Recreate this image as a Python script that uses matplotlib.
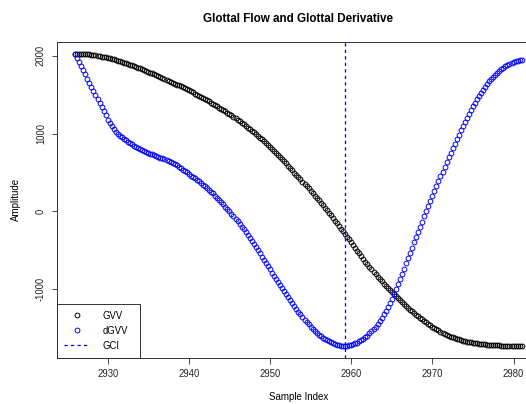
import matplotlib
matplotlib.use("Agg")
import matplotlib.pyplot as plt
import numpy as np

plt.rcParams["font.family"] = ["Liberation Sans", "DejaVu Sans"]
plt.rcParams["axes.unicode_minus"] = False

# sample index runs 2926 .. 2981 in quarter-sample steps (upsampled signal)
first_sample = 2926
last_sample = 2981
gci_sample = 2959.25

# glottal flow (4 values per sample)
gvv = [
    2026, 2025, 2024, 2023, 2022, 2021, 2019, 2016, 2013, 2009, 2005, 2000,
    1995, 1990, 1984, 1978, 1972, 1966, 1959, 1952, 1945, 1937, 1929, 1921,
    1912, 1903, 1894, 1885, 1876, 1866, 1856, 1846, 1836, 1826, 1816, 1806,
    1795, 1784, 1773, 1762, 1750, 1738, 1727, 1715, 1703, 1691, 1679, 1667,
    1655, 1643, 1630, 1618, 1605, 1592, 1580, 1568, 1555, 1541, 1528, 1514,
    1500, 1486, 1471, 1457, 1442, 1427, 1412, 1397, 1382, 1366, 1350, 1334,
    1318, 1301, 1284, 1267, 1250, 1232, 1213, 1195, 1176, 1157, 1137, 1118,
    1098, 1077, 1057, 1036, 1015, 993, 970, 948, 925, 901, 878, 854,
    830, 805, 780, 753, 725, 698, 671, 643, 616, 587, 558, 528,
    498, 469, 440, 411, 382, 353, 324, 294, 265, 234, 204, 173,
    142, 110, 79, 47, 15, -18, -52, -85, -118, -152, -187, -221,
    -255, -290, -325, -360, -395, -431, -467, -504, -540, -575, -610, -645,
    -680, -713, -745, -778, -810, -840, -869, -899, -928, -956, -984, -1012,
    -1040, -1066, -1093, -1119, -1145, -1169, -1193, -1216, -1240, -1262, -1284, -1306,
    -1328, -1348, -1368, -1388, -1408, -1426, -1444, -1462, -1480, -1496, -1513, -1529,
    -1545, -1558, -1572, -1585, -1598, -1608, -1618, -1628, -1638, -1645, -1652, -1660,
    -1667, -1673, -1678, -1684, -1689, -1693, -1697, -1700, -1704, -1707, -1710, -1712,
    -1715, -1717, -1719, -1720, -1722, -1723, -1725, -1726, -1727, -1727, -1728, -1728,
    -1729, -1729, -1730, -1730, -1730,
]

# glottal flow derivative
dgvv = [
    2026, 1973, 1920, 1868, 1815, 1761, 1707, 1654, 1600, 1547, 1495, 1442,
    1390, 1340, 1290, 1235, 1180, 1135, 1092, 1055, 1020, 995, 972, 953,
    935, 914, 895, 877, 860, 844, 829, 814, 800, 788, 776, 764,
    752, 742, 732, 722, 712, 702, 692, 682, 672, 660, 648, 635,
    622, 606, 590, 573, 556, 538, 519, 500, 480, 461, 443, 424,
    405, 384, 363, 342, 320, 298, 275, 253, 230, 203, 175, 148,
    120, 90, 60, 30, 0, -31, -62, -94, -125, -160, -195, -230,
    -265, -304, -342, -381, -420, -460, -500, -540, -580, -621, -662, -704,
    -745, -786, -826, -867, -908, -948, -988, -1028, -1068, -1106, -1144, -1182,
    -1220, -1255, -1290, -1325, -1360, -1391, -1421, -1452, -1482, -1508, -1534, -1560,
    -1585, -1605, -1624, -1642, -1658, -1671, -1684, -1695, -1705, -1713, -1720, -1725,
    -1728, -1728, -1726, -1723, -1718, -1708, -1697, -1685, -1672, -1654, -1635, -1615,
    -1595, -1568, -1540, -1511, -1480, -1442, -1404, -1365, -1325, -1276, -1226, -1174,
    -1120, -1058, -996, -933, -870, -803, -735, -668, -600, -533, -465, -398,
    -330, -264, -197, -131, -65, 0, 65, 130, 195, 259, 322, 386,
    450, 511, 572, 634, 695, 754, 813, 871, 930, 985, 1040, 1095,
    1150, 1200, 1250, 1300, 1350, 1394, 1438, 1481, 1525, 1561, 1598, 1634,
    1670, 1698, 1727, 1755, 1783, 1804, 1824, 1845, 1865, 1879, 1893, 1906,
    1920, 1928, 1935, 1943, 1950,
]

x_ticks = [2930, 2940, 2950, 2960, 2970, 2980]
y_ticks = [-1000, 0, 1000, 2000]

samples = np.arange(first_sample, last_sample + 0.01, 0.25)

fig = plt.figure(figsize=(526 / 72, 404 / 72), dpi=72)
# plot region runs past the right edge, like the cropped original
ax = fig.add_axes([0.109, 0.1146, 0.9167, 0.7814])

ax.plot(samples, gvv, "o", mfc="none", mec="black", ms=4.8, mew=0.95, label="GVV")
ax.plot(samples, dgvv, "o", mfc="none", mec="blue", ms=4.8, mew=0.95, label="dGVV")
gci_line = ax.axvline(gci_sample, lw=1.3, linestyle=(0, (2.5, 2.5)), label="GCI")
gci_line.set_color("blue")

# R style 4% padding
xr = last_sample - first_sample
ax.set_xlim(first_sample - 0.04 * xr, last_sample + 0.04 * xr)
ymin = min(min(gvv), min(dgvv))
ymax = max(max(gvv), max(dgvv))
yr = ymax - ymin
ax.set_ylim(ymin - 0.04 * yr, ymax + 0.04 * yr)

ax.set_xticks(x_ticks)
ax.set_yticks(y_ticks)
ax.tick_params(direction="out", length=5.5, width=0.8, labelsize=9.5, pad=6, colors="#222222")
for lab in ax.get_yticklabels():
    lab.set_rotation(90)
    lab.set_va("center")
for sp in ax.spines.values():
    sp.set_linewidth(0.9)
    sp.set_color("#222222")

ax.set_title("Glottal Flow and Glottal Derivative", fontsize=11.6, fontweight="bold", pad=20)
ax.set_xlabel("Sample Index", fontsize=9.8)
ax.set_ylabel("Amplitude", fontsize=9.8)
ax.xaxis.set_label_coords(0.5, -0.125)
ax.xaxis.label.set_va("center")
ax.yaxis.set_label_coords(-0.0867, 0.5)
ax.yaxis.label.set_va("center")

leg = ax.legend(loc="lower left", bbox_to_anchor=(0, 0, 0.1715, 0.2), mode="expand",
                borderaxespad=0, fontsize=9.5, fancybox=False, framealpha=1,
                edgecolor="#222222", numpoints=1, handlelength=2.6, handletextpad=1.4,
                borderpad=0.75, labelspacing=0.52)
leg.get_frame().set_linewidth(0.9)

plt.savefig("out.png", dpi=72)
